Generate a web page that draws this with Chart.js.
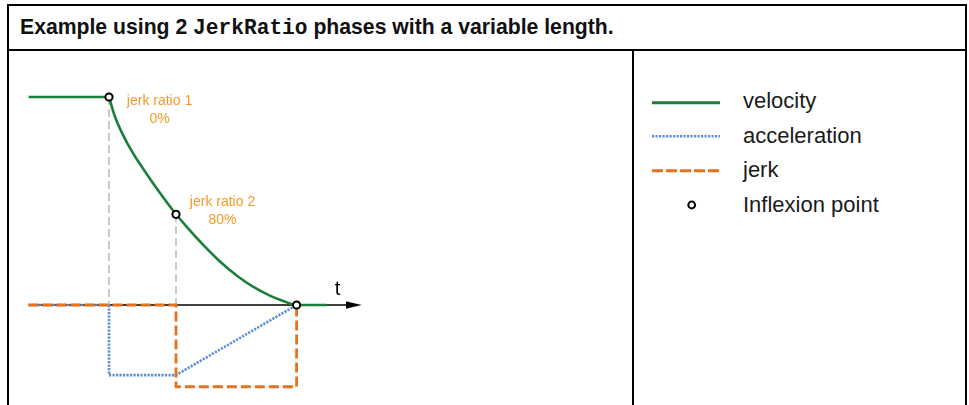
<!DOCTYPE html>
<html>
<head>
<meta charset="utf-8">
<script src="https://cdn.jsdelivr.net/npm/chart.js@4.4.1/dist/chart.umd.min.js"></script>
<style>
  html, body { margin: 0; padding: 0; background: #fff; }
  #wrap { position: relative; width: 969px; height: 405px; overflow: hidden; background: #fff; }
  .ln { position: absolute; background: #000; }
  #title { position: absolute; left: 20px; top: 14px; font: bold 21.2px "Liberation Sans", Arial, sans-serif; color: #111; white-space: nowrap; line-height: 26px; }
  #title code { font: bold 21.2px "Liberation Mono", "Courier New", monospace; color: #111; }
  #legend { position: absolute; left: 0; top: 0; }
  #chart { position: absolute; left: 0; top: 0; }
</style>
</head>
<body>
<div id="wrap">
  <div class="ln" style="left:7px;top:4px;width:960px;height:2px"></div>
  <div class="ln" style="left:7px;top:4px;width:2px;height:401px"></div>
  <div class="ln" style="left:965px;top:4px;width:2px;height:401px"></div>
  <div class="ln" style="left:7px;top:49px;width:960px;height:2px"></div>
  <div class="ln" style="left:632px;top:49px;width:2px;height:356px"></div>
  <div id="title">Example using 2 <code>JerkRatio</code> phases with a variable length.</div>
  <svg id="legend" width="969" height="405" xmlns="http://www.w3.org/2000/svg">
    <g font-family="Liberation Sans, Arial, sans-serif" font-size="22" fill="#1a1a1a">
      <line x1="652" y1="102.7" x2="720" y2="102.7" stroke="#1a7f3a" stroke-width="3"/>
      <line x1="652" y1="136.3" x2="720" y2="136.3" stroke="#5a8fd8" stroke-width="2.6" stroke-dasharray="2.2,1.3"/>
      <line x1="652" y1="170.7" x2="722" y2="170.7" stroke="#e8711c" stroke-width="3" stroke-dasharray="11,3"/>
      <circle cx="691.7" cy="205" r="3.4" stroke="#000" stroke-width="2" fill="#fff"/>
      <text x="743" y="108.3">velocity</text>
      <text x="743" y="143.3">acceleration</text>
      <text x="743" y="177.3">jerk</text>
      <text x="743" y="211.7">Inflexion point</text>
    </g>
  </svg>
  <canvas id="chart" width="969" height="405"></canvas>
</div>
<script>
// ---- data (time units / normalised values) ----
const tVelocityFlat  = [-0.2, 1.0];
const vVelocityFlat  = [1.0, 1.0];
const tVelocityCurve = [1.0, 1.09, 1.21, 1.36, 1.54, 1.74, 2.0, 2.16, 2.41, 2.66, 2.91, 3.15, 3.40, 3.60, 3.8, 4.25];
const vVelocityCurve = [1.0, 0.905, 0.817, 0.729, 0.641, 0.548, 0.436, 0.376, 0.288, 0.208, 0.141, 0.088, 0.045, 0.019, 0.0, 0.0];
const tAcceleration  = [-0.2, 1.0, 1.0, 2.0, 3.8];
const vAcceleration  = [0.0, 0.0, -0.337, -0.337, 0.0];
const tJerk          = [-0.2, 2.0, 2.0, 3.8, 3.8];
const vJerk          = [0.0, 0.0, -0.393, -0.393, 0.0];
const tInflexion     = [1.0, 2.0, 3.8];
const vInflexion     = [1.0, 0.436, 0.0];
const tAxis          = [-0.2, 4.6];
const tArrow         = [4.652];
const labelLines     = [['jerk ratio 1', '0%'], ['jerk ratio 2', '80%']];
const axisLabel      = 't';

function pts(ts, vs) { return ts.map((t, i) => ({ x: t, y: vs[i] })); }

// vertical guide lines from inflexion points 1 and 2 down to the time axis
const guideData = [
  { x: tInflexion[0], y: vInflexion[0] }, { x: tInflexion[0], y: 0 },
  { x: (tInflexion[0] + tInflexion[1]) / 2, y: null },
  { x: tInflexion[1], y: vInflexion[1] }, { x: tInflexion[1], y: 0 }
];

// arrow head as a custom point style
const arrow = document.createElement('canvas');
arrow.width = 16; arrow.height = 10;
(function () {
  const c = arrow.getContext('2d');
  c.fillStyle = '#000';
  c.beginPath(); c.moveTo(0, 1.2); c.lineTo(16, 5); c.lineTo(0, 8.8); c.closePath(); c.fill();
})();

const GREEN = '#1a7f3a', BLUE = '#5a8fd8', ORANGE = '#e8711c', LABEL = '#f39c24';

const labelPlugin = {
  id: 'labels',
  afterDatasetsDraw(chart) {
    const { ctx, scales: { x, y } } = chart;
    ctx.save();
    ctx.fillStyle = LABEL;
    ctx.font = '14px "Liberation Sans", Arial, sans-serif';
    ctx.textAlign = 'center';
    ctx.textBaseline = 'alphabetic';
    const offs = [[50.5, 7.7], [46.5, -8.6]];
    labelLines.forEach((lines, i) => {
      const px = x.getPixelForValue(tInflexion[i]) + offs[i][0];
      const py = y.getPixelForValue(vInflexion[i]) + offs[i][1];
      lines.forEach((s, k) => ctx.fillText(s, px, py + k * 18.5));
    });
    ctx.fillStyle = '#000';
    ctx.font = '20px "Liberation Sans", Arial, sans-serif';
    ctx.fillText(axisLabel, x.getPixelForValue(4.41), y.getPixelForValue(0) - 10);
    ctx.restore();
  }
};

const X_MIN = -42 / 67, X_MAX = (969 - 42) / 67;
const Y_MAX = 305 / 208, Y_MIN = (305 - 405) / 208;

new Chart(document.getElementById('chart'), {
  type: 'line',
  data: {
    datasets: [
      { label: 'Inflexion point', data: pts(tInflexion, vInflexion), showLine: false,
        pointRadius: 3.6, pointBorderWidth: 2, pointBackgroundColor: '#fff', pointBorderColor: '#000', order: 0 },
      { label: 'velocity', data: pts(tVelocityCurve, vVelocityCurve), borderColor: GREEN, borderWidth: 2.6,
        cubicInterpolationMode: 'monotone', pointRadius: 0, order: 1 },
      { label: 'velocity (start)', data: pts(tVelocityFlat, vVelocityFlat), borderColor: GREEN, borderWidth: 2.6,
        pointRadius: 0, order: 1 },
      { label: 'jerk', data: pts(tJerk, vJerk), borderColor: ORANGE, borderWidth: 2.8, borderDash: [10, 4],
        tension: 0, pointRadius: 0, order: 2 },
      { label: 'acceleration', data: pts(tAcceleration, vAcceleration), borderColor: BLUE, borderWidth: 2.6,
        borderDash: [2.2, 1.3], tension: 0, pointRadius: 0, order: 3 },
      { label: 'guides', data: guideData, borderColor: '#bdbdbd', borderWidth: 1.6, borderDash: [8, 4],
        spanGaps: false, pointRadius: 0, order: 4 },
      { label: 'axis', data: tAxis.map(t => ({ x: t, y: 0 })), borderColor: '#000', borderWidth: 1.4,
        pointRadius: 0, order: 5 },
      { label: 'arrow', data: tArrow.map(t => ({ x: t, y: 0 })), showLine: false,
        pointStyle: arrow, pointRadius: 8, order: 5 }
    ]
  },
  options: {
    responsive: false,
    animation: false,
    events: [],
    layout: { padding: 0, autoPadding: false },
    plugins: { legend: { display: false }, tooltip: { enabled: false } },
    scales: {
      x: { type: 'linear', min: X_MIN, max: X_MAX, display: false },
      y: { type: 'linear', min: Y_MIN, max: Y_MAX, display: false }
    }
  },
  plugins: [labelPlugin]
});
</script>
</body>
</html>
